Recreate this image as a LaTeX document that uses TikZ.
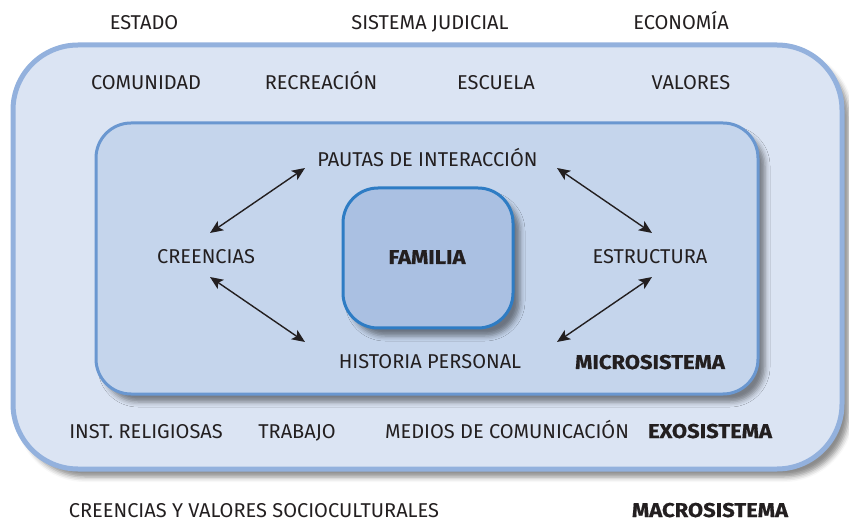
\documentclass[tikz,border=0pt]{standalone}
\usepackage{fontspec}
\setmainfont{Fira Sans}
\newfontfamily\negrita{Fira Sans Bold}[FakeStretch=1.1,FakeBold=0.6]
\usetikzlibrary{arrows.meta}
\usetikzlibrary{shadows.blur}
\definecolor{macrofill}{HTML}{DBE4F3}
\definecolor{macroline}{HTML}{93B1DD}
\definecolor{microfill}{HTML}{C5D5EC}
\definecolor{microline}{HTML}{6A97D0}
\definecolor{famfill}{HTML}{AAC0E2}
\definecolor{famline}{HTML}{2E7CC4}
\definecolor{tinta}{HTML}{231F20}
\tikzset{
  etiqueta/.style={inner sep=0pt,text height=14pt,text depth=0pt,text=tinta,
    font=\fontsize{20}{24}\selectfont},
  sistema/.style={etiqueta,font=\fontsize{20}{24}\negrita},
  caja/.style={draw,inner sep=0pt,blur shadow={shadow xshift=7pt,shadow yshift=-8pt,
    shadow blur radius=5pt,shadow opacity=45}},
  doble/.style={<->,draw=tinta,line width=1.4pt}
}

\begin{document}
\begin{tikzpicture}[x=1pt,y=-1pt,>={Stealth[length=13pt,width=11pt,inset=3pt]}]
    \useasboundingbox (0,0) rectangle (849,521);
    % cajas
    \node[caja,fill=macrofill,draw=macroline,line width=5pt,rounded corners=65pt,
        minimum width=829pt,minimum height=424pt] (macro) at (427.5,257) {};
    \node[caja,fill=microfill,draw=microline,line width=3pt,rounded corners=35pt,
        minimum width=662pt,minimum height=271pt] (micro) at (427,258.5) {};
    \node[caja,fill=famfill,draw=famline,line width=3pt,rounded corners=35pt,
        minimum width=170pt,minimum height=140pt] (fam) at (428,258) {};
    % fila de arriba
    \node[etiqueta] (estado) at (144,23) {ESTADO};
    \node[etiqueta] (judicial) at (430,23) {SISTEMA JUDICIAL};
    \node[etiqueta] (economia) at (681,23) {ECONOMÍA};
    \node[etiqueta] (comunidad) at (146,83) {COMUNIDAD};
    \node[etiqueta] (recreacion) at (321,83) {RECREACIÓN};
    \node[etiqueta] (escuela) at (496,83) {ESCUELA};
    \node[etiqueta] (valores) at (691,83) {VALORES};
    % microsistema
    \node[etiqueta] (pautas) at (427.5,160) {PAUTAS DE INTERACCIÓN};
    \node[etiqueta] (creencias) at (206,257) {CREENCIAS};
    \node[sistema] (familia) at (427,257) {FAMILIA};
    \node[etiqueta] (estructura) at (650,257) {ESTRUCTURA};
    \node[etiqueta] (historia) at (430,362) {HISTORIA PERSONAL};
    \node[sistema] (microtxt) at (650,362) {MICROSISTEMA};
    % exosistema
    \node[etiqueta] (religiosas) at (146,431) {INST. RELIGIOSAS};
    \node[etiqueta] (trabajo) at (297,431) {TRABAJO};
    \node[etiqueta] (medios) at (507,431) {MEDIOS DE COMUNICACIÓN};
    \node[sistema] (exotxt) at (710,431) {EXOSISTEMA};
    % macrosistema
    \node[etiqueta] (socio) at (254,510) {CREENCIAS Y VALORES SOCIOCULTURALES};
    \node[sistema] (macrotxt) at (710,510) {MACROSISTEMA};
    % flechas
    \draw[doble] ([shift={(4,-24)}]creencias.center) -- ([shift={(-122.5,8)}]pautas.center);
    \draw[doble] ([shift={(129.5,8)}]pautas.center) -- ([shift={(2,-24)}]estructura.center);
    \draw[doble] ([shift={(4,20)}]creencias.center) -- ([shift={(-125,-20)}]historia.center);
    \draw[doble] ([shift={(2,20)}]estructura.center) -- ([shift={(127,-20)}]historia.center);
\end{tikzpicture}
\end{document}
